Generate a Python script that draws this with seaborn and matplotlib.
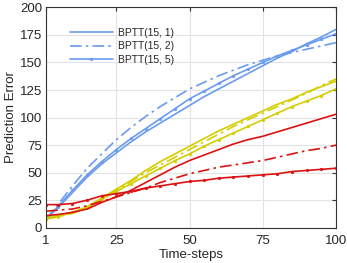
import pandas as pd
import numpy as np
import matplotlib
matplotlib.use("Agg")
import matplotlib.pyplot as plt
import seaborn as sns

steps = [1, 5, 10, 15, 20, 25, 30, 35, 40, 45, 50, 55, 60, 65, 70, 75, 80, 85, 90, 95, 100]

# blue group
blue_1 = [8, 18, 32, 46, 58, 68, 78, 87, 95, 103, 111, 119, 126, 133, 140, 147, 154, 160, 167, 173, 180]
blue_2 = [8, 21, 38, 54, 67, 80, 91, 101, 110, 118, 126, 132, 138, 143, 148, 152, 156, 159, 162, 165, 168]
blue_5 = [8, 19, 34, 48, 60, 71, 81, 90, 99, 108, 117, 124, 131, 138, 144, 150, 156, 161, 166, 171, 176]

# yellow group
yellow_1 = [9, 11, 14, 19, 27, 35, 43, 52, 60, 67, 74, 81, 88, 94, 100, 106, 112, 117, 123, 128, 133]
yellow_2 = [8, 10, 13, 18, 26, 34, 42, 50, 57, 64, 71, 78, 85, 92, 98, 104, 110, 116, 122, 129, 135]
yellow_5 = [8, 10, 14, 18, 26, 33, 40, 47, 54, 61, 67, 74, 80, 86, 92, 98, 104, 110, 115, 120, 126]

# red group
red_1 = [11, 12, 14, 17, 23, 28, 34, 41, 48, 55, 61, 66, 71, 76, 80, 83, 87, 91, 95, 99, 103]
red_2 = [15, 16, 17, 20, 24, 28, 32, 36, 41, 45, 49, 52, 55, 57, 59, 61, 64, 67, 70, 72, 75]
red_5 = [21, 21, 22, 25, 29, 31, 33, 36, 38, 40, 42, 43, 45, 46, 47, 48, 49, 51, 52, 53, 54]

labels = ['BPTT(15, 1)', 'BPTT(15, 2)', 'BPTT(15, 5)']
x_ticks = [1, 25, 50, 75, 100]
y_ticks = [0, 25, 50, 75, 100, 125, 150, 175, 200]

sns.set_style('white')
plt.rcParams['font.family'] = ['Liberation Sans', 'DejaVu Sans']

fig = plt.figure(figsize=(3.47, 2.63), dpi=100)
ax = fig.add_axes([0.133, 0.134, 0.835, 0.838])

groups = [
    ('#6a9bf0', [blue_1, blue_2, blue_5], True),
    ('#d4cd00', [yellow_1, yellow_2, yellow_5], False),
    ('#dc1212', [red_1, red_2, red_5], False),
]
dash_dot = (0, (7, 2.5, 1.5, 2.5))

for color, series, with_label in groups:
    for i, vals in enumerate(series):
        sns.lineplot(x=steps, y=vals, color=color, linewidth=1.2, ax=ax,
                     label=labels[i] if with_label else None)
        line = ax.lines[-1]
        if i == 1:
            line.set_linestyle(dash_dot)
        else:
            line.set_linestyle('-')
        if i == 2:
            line.set_marker('o')
            line.set_markersize(1.8)
            line.set_markerfacecolor(color)
            line.set_markeredgecolor(color)
            line.set_markeredgewidth(0.5)

ax.set_xlim(1, 100)
ax.set_ylim(0, 200)
ax.set_xticks(x_ticks)
ax.set_yticks(y_ticks)
ax.grid(True, color='#e3e3e3', linewidth=0.8)
ax.tick_params(direction='in', length=3, top=True, right=True, labelsize=9.5,
               color='#333333')
ax.tick_params(axis='x', pad=5)
ax.tick_params(axis='y', pad=3)
for s in ax.spines.values():
    s.set_color('#333333')
    s.set_linewidth(0.8)
ax.set_xlabel('Time-steps', fontsize=9.5, labelpad=2)
ax.set_ylabel('Prediction Error', fontsize=9.5, labelpad=2)

handles = ax.lines[:3]
ax.legend(handles, labels, loc='upper left', bbox_to_anchor=(0.05, 0.95), frameon=False,
          fontsize=7.4, handlelength=4.2, handletextpad=0.5, labelspacing=0.35)

fig.savefig('out.png', dpi=100)
